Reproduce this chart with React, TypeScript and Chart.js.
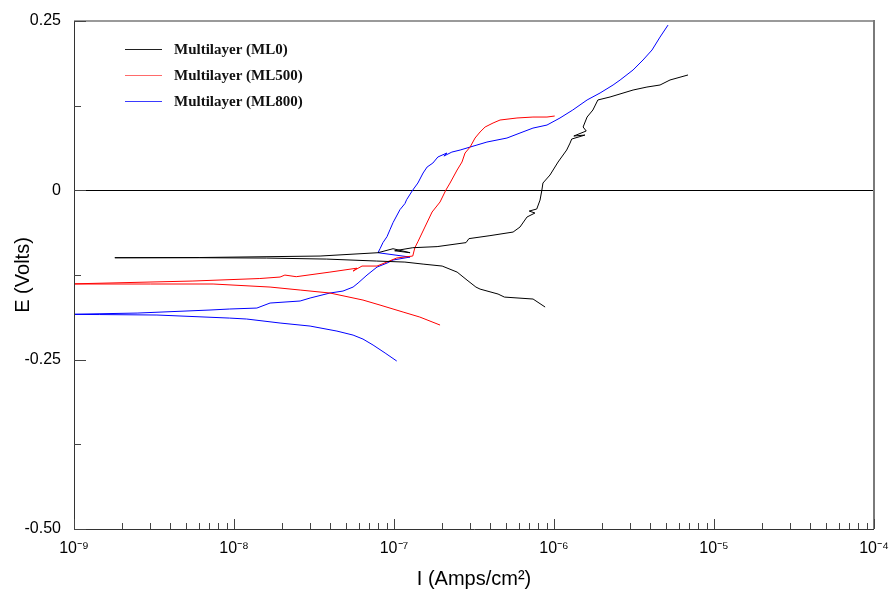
import React, { useEffect, useRef } from 'react';
import { Chart, registerables } from 'chart.js';

Chart.register(...registerables);

// ---------- data ----------
const seriesNames = ['Multilayer (ML0)', 'Multilayer (ML500)', 'Multilayer (ML800)'];
const seriesColors = ['#000000', '#ff0000', '#0000ff'];
const legendColors = ['#202020', '#ff6a6a', '#3a3aff'];

// ML0 (black): current density (A/cm2) and potential (V), scan order
const ml0Current = [
  8.8e-7, 7.4e-7, 4.9e-7, 4.47e-7, 3.45e-7, 3.25e-7, 2.86e-7, 2.48e-7, 2.0e-7, 1.52e-7,
  1.17e-7, 7.8e-8, 3.8e-8, 1.6e-8, 6.0e-9, 1.8e-9,
  6.1e-9, 3.45e-8, 7.94e-8, 9.86e-8, 1.26e-7, 1.01e-7, 1.31e-7, 1.86e-7, 2.82e-7, 2.94e-7,
  3.98e-7, 5.55e-7, 6.13e-7, 6.78e-7, 7.6e-7, 7.0e-7, 7.8e-7, 8.18e-7, 8.4e-7, 8.53e-7,
  9.44e-7, 1.06e-6, 1.2e-6, 1.26e-6, 1.29e-6, 1.56e-6, 1.33e-6, 1.59e-6, 1.52e-6, 1.61e-6,
  1.75e-6, 1.88e-6, 2.24e-6, 3.12e-6, 3.81e-6, 4.6e-6, 5.31e-6, 6.88e-6,
];
const ml0Potential = [
  -0.1723, -0.1605, -0.1576, -0.1531, -0.1458, -0.1428, -0.1325, -0.1207, -0.1118, -0.1089,
  -0.1059, -0.1044, -0.1015, -0.1, -0.0995, -0.0995,
  -0.0992, -0.097, -0.0921, -0.0862, -0.0921, -0.0892, -0.0847, -0.0831, -0.0772, -0.0713,
  -0.0669, -0.0616, -0.0542, -0.0394, -0.0335, -0.0306, -0.0276, -0.0144, 0.0004, 0.0108,
  0.0226, 0.0418, 0.0595, 0.0698, 0.0757, 0.0816, 0.0802, 0.0876, 0.0935, 0.1082,
  0.1186, 0.1334, 0.1378, 0.1481, 0.1525, 0.1555, 0.1629, 0.1703,
];

// ML500 (red)
const ml500Current = [
  1.94e-7, 1.45e-7, 1.14e-7, 8.18e-8, 6.4e-8, 3.98e-8, 2.59e-8, 1.68e-8, 7.4e-9, 3.0e-9, 9.0e-10,
  5.54e-9, 1.45e-8, 1.94e-8, 2.08e-8, 2.45e-8, 3.98e-8, 5.87e-8, 5.55e-8, 6.31e-8, 7.83e-8,
  1.04e-7, 1.31e-7, 1.35e-7, 1.41e-7, 1.56e-7, 1.73e-7, 1.94e-7, 2.11e-7, 2.24e-7, 2.48e-7,
  2.66e-7, 2.78e-7, 2.99e-7, 3.21e-7, 3.45e-7, 3.71e-7, 4.16e-7, 4.6e-7, 5.87e-7, 7.39e-7,
  9.04e-7, 1.01e-6,
];
const ml500Potential = [
  -0.1989, -0.1871, -0.1797, -0.1694, -0.162, -0.1516, -0.1472, -0.1428, -0.1383, -0.1383, -0.1383,
  -0.1339, -0.1302, -0.128, -0.1251, -0.1275, -0.1207, -0.1149, -0.1192, -0.1118, -0.1118,
  -0.0999, -0.097, -0.0847, -0.0759, -0.0542, -0.032, -0.0172, 0.0004, 0.0108, 0.03,
  0.0418, 0.0551, 0.0639, 0.0772, 0.0861, 0.0935, 0.0994, 0.1038, 0.1068, 0.1082,
  0.1082, 0.1097,
];

// ML800 (blue)
const ml800Current = [
  1.04e-7, 8.8e-8, 7.4e-8, 6.4e-8, 5.55e-8, 4.4e-8, 2.99e-8, 1.94e-8, 1.2e-8, 9.4e-9, 3.3e-9,
  1.45e-9, 9.0e-10,
  2.48e-9, 7.08e-9, 9.4e-9, 1.39e-8, 1.68e-8, 2.59e-8, 2.99e-8, 3.98e-8, 4.8e-8, 5.55e-8,
  5.96e-8, 6.78e-8, 7.83e-8, 9.04e-8, 9.86e-8, 1.26e-7, 7.94e-8, 8.18e-8, 8.53e-8, 9.04e-8,
  9.44e-8, 9.86e-8, 1.09e-7, 1.17e-7, 1.2e-7, 1.31e-7, 1.41e-7, 1.52e-7, 1.61e-7, 1.75e-7,
  1.88e-7, 2.14e-7, 2.05e-7, 2.3e-7, 2.59e-7, 2.99e-7, 3.3e-7, 3.81e-7, 5.08e-7, 6.13e-7,
  7.39e-7, 9.04e-7, 1.09e-6, 1.31e-6, 1.61e-6, 1.94e-6, 2.34e-6, 2.59e-6, 3.12e-6, 3.6e-6,
  4.1e-6, 4.6e-6, 5.16e-6,
];
const ml800Potential = [
  -0.252, -0.2402, -0.2284, -0.2196, -0.2137, -0.2078, -0.2004, -0.1959, -0.19, -0.1886, -0.1841,
  -0.1834, -0.1831,
  -0.1812, -0.1767, -0.1752, -0.1738, -0.1664, -0.1634, -0.159, -0.1516, -0.1487, -0.1428,
  -0.1369, -0.1251, -0.1133, -0.1074, -0.1029, -0.0985, -0.0921, -0.0862, -0.0772, -0.0684,
  -0.0581, -0.0477, -0.0285, -0.0196, -0.0137, 0.0004, 0.0108, 0.0256, 0.0344, 0.0403,
  0.0492, 0.0551, 0.0506, 0.0565, 0.0595, 0.0639, 0.0669, 0.0713, 0.0772, 0.0846,
  0.0919, 0.0964, 0.1068, 0.1186, 0.1334, 0.1437, 0.1555, 0.1629, 0.1777, 0.1924,
  0.2072, 0.2263, 0.244,
];

// axes
const xMin = 1e-9;
const xMax = 1e-4;
const xDecadeExponents = [-9, -8, -7, -6, -5, -4];
const xTickLabels = ['10⁻⁹', '10⁻⁸', '10⁻⁷', '10⁻⁶', '10⁻⁵', '10⁻⁴'];
const yMin = -0.5;
const yMax = 0.25;
const yTickValues = [0.25, 0, -0.25, -0.5];
const yTickLabels = ['0.25', '0', '-0.25', '-0.50'];
const yMinorTickValues = [0.125, -0.125, -0.375];
const xTitle = 'I (Amps/cm²)';
const yTitle = 'E (Volts)';

const SANS = '"Liberation Sans", Arial, Helvetica, sans-serif';
const SERIF = '"Liberation Serif", "Times New Roman", serif';

const seriesCurrents = [ml0Current, ml500Current, ml800Current];
const seriesPotentials = [ml0Potential, ml500Potential, ml800Potential];

const framePlugin = {
  id: 'frameAndLegend',
  beforeDatasetsDraw(chart: any) {
    const { ctx, chartArea: a, scales } = chart;
    const y0 = Math.round(scales.y.getPixelForValue(0)) + 0.5;
    ctx.save();
    ctx.strokeStyle = '#000000';
    ctx.lineWidth = 1;
    ctx.beginPath();
    ctx.moveTo(a.left, y0);
    ctx.lineTo(a.right, y0);
    ctx.stroke();
    ctx.restore();
  },
  afterDraw(chart: any) {
    const { ctx, chartArea: a, scales } = chart;
    const xs = scales.x;
    const ys = scales.y;
    ctx.save();
    // top & right border (grey)
    ctx.strokeStyle = '#9a9a9a';
    ctx.lineWidth = 2;
    ctx.beginPath();
    ctx.moveTo(a.left, a.top);
    ctx.lineTo(a.right, a.top);
    ctx.stroke();
    ctx.strokeStyle = '#7a7a7a';
    ctx.beginPath();
    ctx.moveTo(a.right, a.top - 1);
    ctx.lineTo(a.right, a.bottom);
    ctx.stroke();
    // left & bottom axes
    ctx.strokeStyle = '#333333';
    ctx.lineWidth = 1;
    ctx.beginPath();
    ctx.moveTo(a.left + 0.5, a.top);
    ctx.lineTo(a.left + 0.5, a.bottom + 0.5);
    ctx.lineTo(a.right, a.bottom + 0.5);
    ctx.stroke();
    // y ticks (inward)
    ctx.strokeStyle = '#444444';
    ctx.beginPath();
    yTickValues.forEach((v) => {
      const py = Math.round(ys.getPixelForValue(v)) + 0.5;
      ctx.moveTo(a.left, py);
      ctx.lineTo(a.left + 12, py);
    });
    yMinorTickValues.forEach((v) => {
      const py = Math.round(ys.getPixelForValue(v)) + 0.5;
      ctx.moveTo(a.left, py);
      ctx.lineTo(a.left + 7, py);
    });
    // x ticks (inward)
    xDecadeExponents.forEach((e) => {
      for (let m = 1; m <= 9; m++) {
        const v = m * Math.pow(10, e);
        if (v > xMax * 1.0001) break;
        const px = Math.round(xs.getPixelForValue(v)) + 0.5;
        const len = m === 1 ? 10 : 6;
        ctx.moveTo(px, a.bottom);
        ctx.lineTo(px, a.bottom - len);
      }
    });
    ctx.stroke();
    // legend
    const lx1 = a.left + 51;
    const lx2 = a.left + 88;
    const tx = a.left + 100;
    seriesNames.forEach((name, i) => {
      const ly = a.top + 28 + i * 26;
      ctx.strokeStyle = legendColors[i];
      ctx.lineWidth = 1;
      ctx.beginPath();
      ctx.moveTo(lx1, ly + 0.5);
      ctx.lineTo(lx2, ly + 0.5);
      ctx.stroke();
      ctx.fillStyle = '#111111';
      ctx.font = `bold 15px ${SERIF}`;
      ctx.textBaseline = 'middle';
      ctx.textAlign = 'left';
      ctx.fillText(name, tx, ly + 1);
    });
    ctx.restore();
  },
};

export default function App() {
  const canvasRef = useRef<HTMLCanvasElement | null>(null);

  useEffect(() => {
    if (!canvasRef.current) return;
    const datasets = seriesNames.map((name, i) => ({
      label: name,
      data: seriesCurrents[i].map((c, k) => ({ x: c, y: seriesPotentials[i][k] })),
      borderColor: seriesColors[i],
      backgroundColor: seriesColors[i],
      borderWidth: 1,
      pointRadius: 0,
      showLine: true,
      tension: 0,
      fill: false,
    }));
    const chart = new Chart(canvasRef.current, {
      type: 'scatter',
      data: { datasets },
      plugins: [framePlugin],
      options: {
        animation: false,
        responsive: true,
        maintainAspectRatio: false,
        layout: { padding: { top: 21, right: 16, left: 0, bottom: 0 } },
        plugins: {
          legend: { display: false },
          tooltip: { enabled: false },
        },
        scales: {
          x: {
            type: 'logarithmic',
            position: 'bottom',
            min: xMin,
            max: xMax,
            grid: { display: false, drawTicks: false },
            border: { display: false },
            afterFit: (s: any) => {
              s.height = 65;
              s.paddingLeft = 0;
              s.paddingRight = 0;
            },
            ticks: {
              autoSkip: false,
              maxRotation: 0,
              minRotation: 0,
              padding: 10,
              color: '#000000',
              font: { family: SANS, size: 16 },
              callback: (value: any) => {
                const l = Math.log10(Number(value));
                const r = Math.round(l);
                if (Math.abs(l - r) > 1e-6) return '';
                const idx = xDecadeExponents.indexOf(r);
                return idx >= 0 ? xTickLabels[idx] : '';
              },
            },
            title: {
              display: true,
              text: xTitle,
              color: '#000000',
              font: { family: SANS, size: 20 },
              padding: { top: 0, bottom: 3 },
            },
          },
          y: {
            type: 'linear',
            position: 'left',
            min: yMin,
            max: yMax,
            grid: { display: false, drawTicks: false },
            border: { display: false },
            afterFit: (s: any) => {
              s.width = 74;
              s.paddingTop = 0;
              s.paddingBottom = 0;
            },
            ticks: {
              stepSize: 0.25,
              padding: 13,
              color: '#000000',
              font: { family: SANS, size: 16 },
              callback: (value: any) => {
                const idx = yTickValues.findIndex((t) => Math.abs(t - Number(value)) < 1e-9);
                return idx >= 0 ? yTickLabels[idx] : '';
              },
            },
            title: {
              display: true,
              text: yTitle,
              color: '#000000',
              font: { family: SANS, size: 20 },
              padding: { top: 11, bottom: 0 },
            },
          },
        },
      },
    });
    return () => chart.destroy();
  }, []);

  return (
    <div style={{ position: 'fixed', left: 0, top: 0, width: 890, height: 594, background: '#ffffff' }}>
      <canvas ref={canvasRef} />
    </div>
  );
}
